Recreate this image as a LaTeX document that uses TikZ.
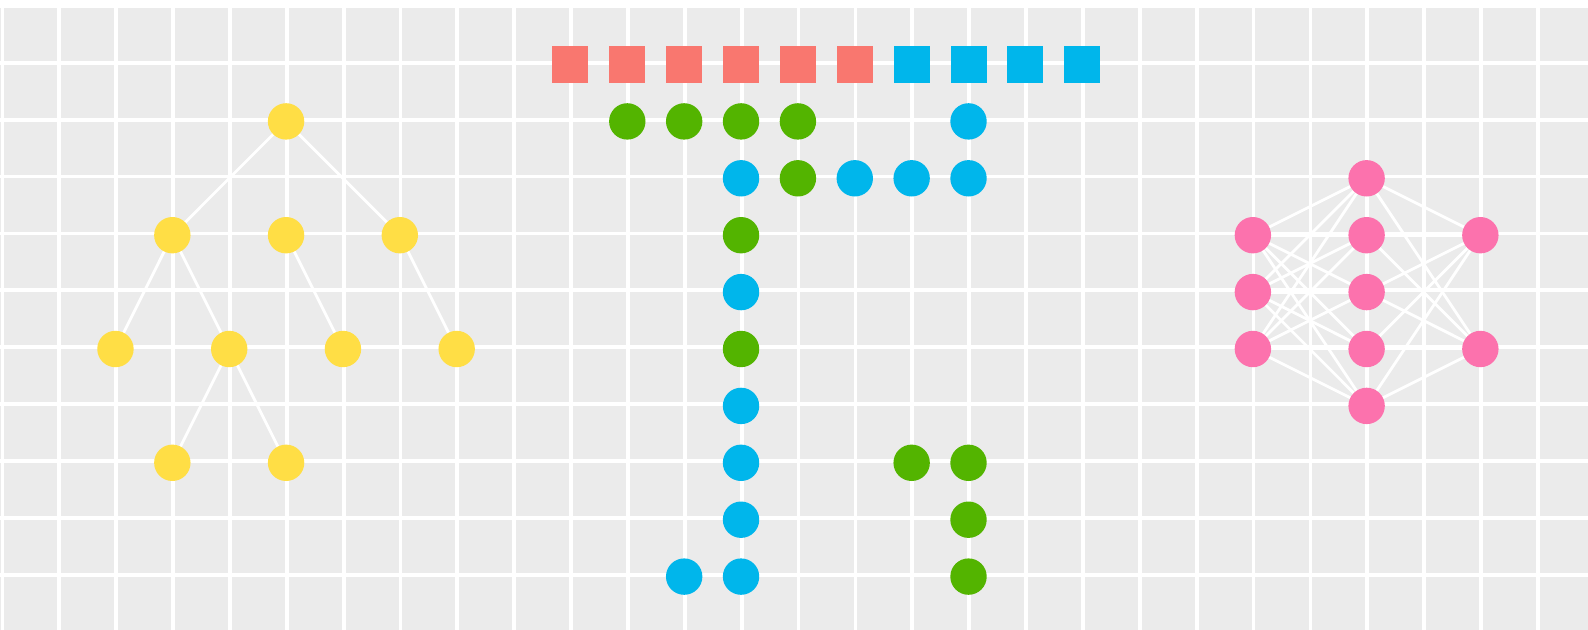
\documentclass[tikz,border=0pt]{standalone}
\pgfdeclarelayer{bg}
\pgfdeclarelayer{edges}
\pgfsetlayers{bg,edges,main}
\definecolor{panel}{HTML}{EBEBEB}
\definecolor{ylw}{HTML}{FFDE45}
\definecolor{grn}{HTML}{53B400}
\definecolor{blu}{HTML}{00B6EB}
\definecolor{sal}{HTML}{F9776F}
\definecolor{pnk}{HTML}{FC72AD}
\begin{document}
\begin{tikzpicture}[x=28.435pt,y=-28.45pt,
  gridline/.style={white,line width=1.9pt},
  edge/.style={white,line width=1.4pt},
  dot/.style={circle,minimum size=18.2pt,inner sep=0pt,outer sep=0pt},
  sq/.style={rectangle,minimum size=18pt,inner sep=0pt,outer sep=0pt},
  yd/.style={dot,fill=ylw},
  gd/.style={dot,fill=grn},
  bd/.style={dot,fill=blu},
  pd/.style={dot,fill=pnk},
  ss/.style={sq,fill=sal},
  bs/.style={sq,fill=blu}]
\useasboundingbox (-0.0422,-1.1037) rectangle (27.881,9.9684);
\begin{pgfonlayer}{bg}
\fill[panel] (-0.0422,-0.9631) rectangle (27.881,9.9684);
\foreach \c in {0,...,27} \draw[gridline] (\c,-0.9631) -- (\c,9.9684);
\foreach \r in {0,...,9} \draw[gridline] (-0.0422,\r) -- (27.881,\r);
\end{pgfonlayer}
\begin{scope}[shift={(-0.012,0.03)}]
% tree
\node[yd] (t0) at (5,1) {};
\node[yd] (t1) at (3,3) {};
\node[yd] (t2) at (5,3) {};
\node[yd] (t3) at (7,3) {};
\node[yd] (t4) at (2,5) {};
\node[yd] (t5) at (4,5) {};
\node[yd] (t6) at (6,5) {};
\node[yd] (t7) at (8,5) {};
\node[yd] (t8) at (3,7) {};
\node[yd] (t9) at (5,7) {};
% squares
\foreach \c in {10,...,15} \node[ss] (s\c) at (\c,0) {};
\foreach \c in {16,...,19} \node[bs] (s\c) at (\c,0) {};
% middle dots
\node[gd] (a1) at (11,1) {};
\node[gd] (a2) at (12,1) {};
\node[gd] (a3) at (13,1) {};
\node[gd] (a4) at (14,1) {};
\node[bd] (a5) at (17,1) {};
\node[bd] (b1) at (13,2) {};
\node[gd] (b2) at (14,2) {};
\node[bd] (b3) at (15,2) {};
\node[bd] (b4) at (16,2) {};
\node[bd] (b5) at (17,2) {};
\node[gd] (c3) at (13,3) {};
\node[bd] (c4) at (13,4) {};
\node[gd] (c5) at (13,5) {};
\node[bd] (c6) at (13,6) {};
\node[bd] (c7) at (13,7) {};
\node[bd] (c8) at (13,8) {};
\node[bd] (c9) at (13,9) {};
\node[bd] (d9) at (12,9) {};
\node[gd] (e7) at (16,7) {};
\node[gd] (f7) at (17,7) {};
\node[gd] (f8) at (17,8) {};
\node[gd] (f9) at (17,9) {};
% network
\foreach \r in {3,4,5} \node[pd] (l\r) at (22,\r) {};
\foreach \r in {2,...,6} \node[pd] (m\r) at (24,\r) {};
\foreach \r in {3,5} \node[pd] (r\r) at (26,\r) {};
\end{scope}
\begin{pgfonlayer}{edges}
\foreach \a/\b in {t0/t1,t0/t2,t0/t3,t1/t4,t1/t5,t2/t6,t3/t7,t5/t8,t5/t9}
  \draw[edge] (\a.center) -- (\b.center);
\foreach \i in {3,4,5} \foreach \j in {2,...,6}
  \draw[edge] (l\i.center) -- (m\j.center);
\foreach \j in {2,...,6} \foreach \k in {3,5}
  \draw[edge] (m\j.center) -- (r\k.center);
\end{pgfonlayer}
\end{tikzpicture}
\end{document}
